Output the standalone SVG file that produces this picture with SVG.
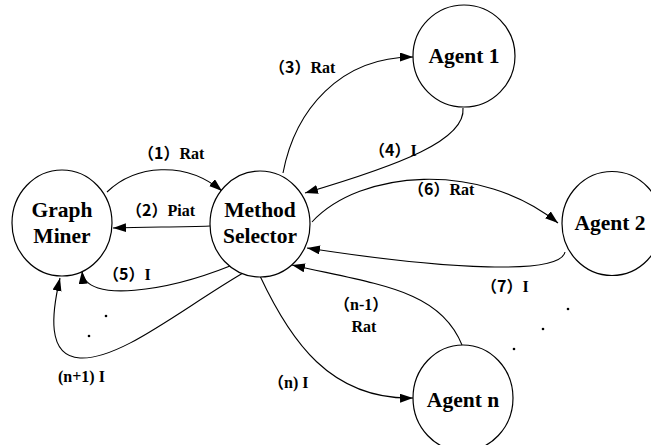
<svg xmlns="http://www.w3.org/2000/svg" width="651" height="445" viewBox="0 0 651 445">
<style>
.node{fill:#fff;stroke:#000;stroke-width:1.2}
.e{fill:none;stroke:#000;stroke-width:1.1;marker-end:url(#ah)}
.dot{fill:#000}
</style>
<defs>
<marker id="ah" markerUnits="userSpaceOnUse" markerWidth="14" markerHeight="10" refX="13" refY="4.5" orient="auto" viewBox="0 0 14 10">
<path d="M0,0 L13,4.5 L0,9 z" fill="#000"/>
</marker>
</defs>
<rect width="651" height="445" fill="#fff"/>
<g id="connectors">
<path class="e" d="M107,192 C135,165 185,160 222,191"/>
<path class="e" d="M210,226 C180,227 150,227 113,228"/>
<path class="e" d="M230,266 C170,290 85,305 82,271"/>
<path class="e" d="M243,273 C180,310 120,360 80,358 C46,356 52,312 60,278"/>
<path class="e" d="M283,173 C295,110 340,57 413,57"/>
<path class="e" d="M463,108 C466,140 400,165 305,193"/>
<path class="e" d="M312,222 C360,170 480,160 558,223"/>
<path class="e" d="M565,252 C560,275 450,270 307,248"/>
<path class="e" d="M462,345 C440,290 380,285 292,265"/>
<path class="e" d="M260,276 C290,340 330,400 413,398"/>
</g>
<g id="graph-miner">
<ellipse class="node" cx="62" cy="223" rx="50" ry="53"/>
<text x="62" y="217" font-family="Liberation Serif, serif" font-weight="bold" font-size="21.5" text-anchor="middle">Graph</text>
<text x="62" y="243" font-family="Liberation Serif, serif" font-weight="bold" font-size="21.5" text-anchor="middle">Miner</text>
</g>
<g id="method-selector">
<ellipse class="node" cx="260" cy="224" rx="50" ry="53"/>
<text x="260" y="217" font-family="Liberation Serif, serif" font-weight="bold" font-size="21.5" text-anchor="middle">Method</text>
<text x="260" y="243" font-family="Liberation Serif, serif" font-weight="bold" font-size="21.5" text-anchor="middle">Selector</text>
</g>
<g id="agent-1">
<ellipse class="node" cx="464" cy="56" rx="51" ry="51"/>
<text x="464" y="63" font-family="Liberation Serif, serif" font-weight="bold" font-size="21.5" text-anchor="middle">Agent 1</text>
</g>
<g id="agent-2">
<ellipse class="node" cx="612" cy="223.5" rx="50" ry="52"/>
<text x="610" y="230" font-family="Liberation Serif, serif" font-weight="bold" font-size="21.5" text-anchor="middle">Agent 2</text>
</g>
<g id="agent-n">
<ellipse class="node" cx="463" cy="398" rx="50" ry="53"/>
<text x="463" y="407" font-family="Liberation Serif, serif" font-weight="bold" font-size="21.5" text-anchor="middle">Agent n</text>
</g>
<g id="labels" font-weight="bold" font-size="16">
<text x="138" y="159"><tspan font-family="Noto Sans CJK SC, sans-serif">（1）</tspan><tspan font-family="Liberation Serif, serif">Rat</tspan></text>
<text x="126" y="216"><tspan font-family="Noto Sans CJK SC, sans-serif">（2）</tspan><tspan font-family="Liberation Serif, serif">Piat</tspan></text>
<text x="269" y="73"><tspan font-family="Noto Sans CJK SC, sans-serif">（3）</tspan><tspan font-family="Liberation Serif, serif">Rat</tspan></text>
<text x="369" y="156"><tspan font-family="Noto Sans CJK SC, sans-serif">（4）</tspan><tspan font-family="Liberation Serif, serif">I</tspan></text>
<text x="103" y="280"><tspan font-family="Noto Sans CJK SC, sans-serif">（5）</tspan><tspan font-family="Liberation Serif, serif">I</tspan></text>
<text x="408" y="195"><tspan font-family="Noto Sans CJK SC, sans-serif">（6）</tspan><tspan font-family="Liberation Serif, serif">Rat</tspan></text>
<text x="481" y="292"><tspan font-family="Noto Sans CJK SC, sans-serif">（7）</tspan><tspan font-family="Liberation Serif, serif">I</tspan></text>
<text x="334" y="310"><tspan font-family="Noto Sans CJK SC, sans-serif">（</tspan><tspan font-family="Liberation Serif, serif">n-1</tspan><tspan font-family="Noto Sans CJK SC, sans-serif">）</tspan></text>
<text x="364" y="332" text-anchor="middle" font-family="Liberation Serif, serif">Rat</text>
<text x="268" y="388"><tspan font-family="Noto Sans CJK SC, sans-serif">（</tspan><tspan font-family="Liberation Serif, serif">n) I</tspan></text>
<text x="58" y="382" font-family="Liberation Serif, serif">(n+1) I</text>
</g>
<g id="dots">
<circle class="dot" cx="106" cy="316" r="1.3"/>
<circle class="dot" cx="89" cy="336" r="1.3"/>
<circle class="dot" cx="568" cy="309" r="1.3"/>
<circle class="dot" cx="543" cy="329" r="1.3"/>
<circle class="dot" cx="514" cy="349" r="1.3"/>
</g>
</svg>
